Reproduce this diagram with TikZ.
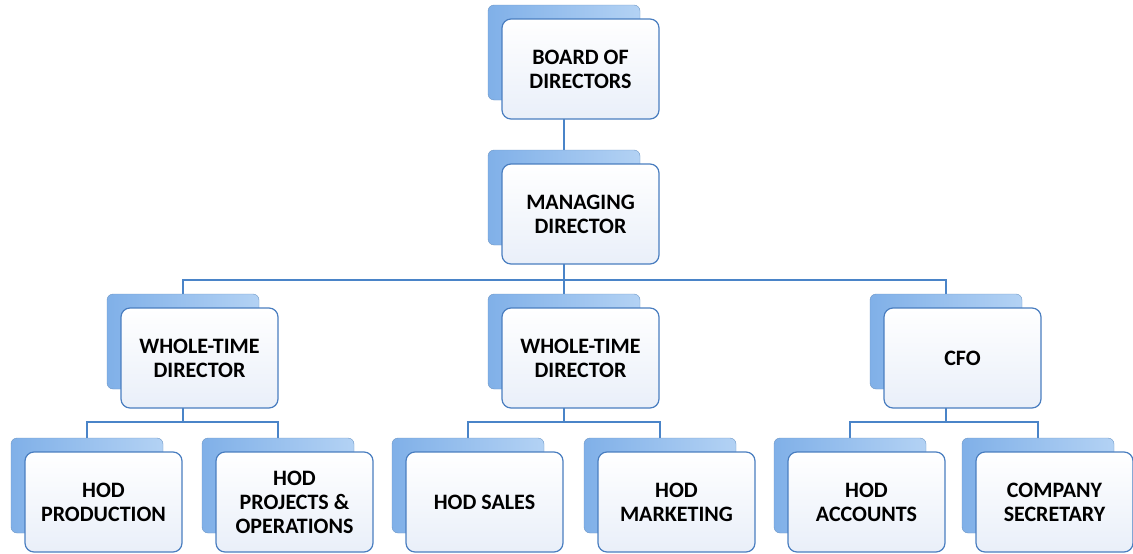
\documentclass[tikz,border=0pt]{standalone}
\usepackage{fontspec}
\setmainfont{Carlito}
\usetikzlibrary{backgrounds}
\definecolor{linkblue}{HTML}{4A84C8}
\definecolor{edgeblue}{HTML}{4A7EC0}
\definecolor{backdark}{HTML}{80B0E8}
\definecolor{backlight}{HTML}{B3D2F4}
\definecolor{cardtint}{HTML}{E9EFF9}

\tikzset{
  back/.style={rounded corners=6pt, minimum width=152pt, minimum height=95pt,
    inner sep=0pt, left color=backdark, right color=backlight, draw=backdark!85!black},
  card/.style={rounded corners=9pt, minimum width=157pt, minimum height=100pt,
    inner sep=0pt, align=center, top color=white, bottom color=cardtint,
    draw=edgeblue, line width=1.2pt, font=\bfseries\fontsize{22}{24}\selectfont},
  link/.style={draw=linkblue, line width=1.5pt},
}

\begin{document}
\begin{tikzpicture}[x=1pt, y=-1pt]

\def\sh{16.5}

\useasboundingbox (0,0) rectangle (1133,554);

% Back plates
\node [back] (bodS)  at (564,52.5)  {};
\node [back] (mdS)   at (564,197.5) {};
\node [back] (wt1S)  at (183,341.5) {};
\node [back] (wt2S)  at (564,341.5) {};
\node [back] (cfoS)  at (946,341.5) {};
\node [back] (prodS) at (87,485.5)  {};
\node [back] (projS) at (278,485.5) {};
\node [back] (salS)  at (468,485.5) {};
\node [back] (mktS)  at (660,485.5) {};
\node [back] (accS)  at (850,485.5) {};
\node [back] (secS)  at (1038,485.5) {};

% Cards
\node [card] (bod)  at ([shift={(\sh,\sh)}]bodS)  {BOARD OF\\DIRECTORS};
\node [card] (md)   at ([shift={(\sh,\sh)}]mdS)   {MANAGING\\DIRECTOR};
\node [card] (wt1)  at ([shift={(\sh,\sh)}]wt1S)  {WHOLE-TIME\\DIRECTOR};
\node [card] (wt2)  at ([shift={(\sh,\sh)}]wt2S)  {WHOLE-TIME\\DIRECTOR};
\node [card] (cfo)  at ([shift={(\sh,\sh)}]cfoS)  {CFO};
\node [card] (prod) at ([shift={(\sh,\sh)}]prodS) {HOD\\PRODUCTION};
\node [card] (proj) at ([shift={(\sh,\sh)}]projS) {HOD\\PROJECTS \&\\OPERATIONS};
\node [card] (sal)  at ([shift={(\sh,\sh)}]salS)  {HOD SALES};
\node [card] (mkt)  at ([shift={(\sh,\sh)}]mktS)  {HOD\\MARKETING};
\node [card] (acc)  at ([shift={(\sh,\sh)}]accS)  {HOD\\ACCOUNTS};
\node [card] (sec)  at ([shift={(\sh,\sh)}]secS)  {COMPANY\\SECRETARY};

% Lines
\coordinate (busA) at (564,280);
\coordinate (busB) at (183,422);
\coordinate (busC) at (564,422);
\coordinate (busD) at (946,422);

\begin{scope}[on background layer]
\draw [link] (bodS) -- (mdS);
\draw [link] (mdS) -- (busA);
\draw [link] (wt1S) |- (busA) -| (cfoS);
\draw [link] (busA) -- (wt2S);
\draw [link] (wt1S) -- (busB);
\draw [link] (prodS) |- (busB) -| (projS);
\draw [link] (wt2S) -- (busC);
\draw [link] (salS) |- (busC) -| (mktS);
\draw [link] (cfoS) -- (busD);
\draw [link] (accS) |- (busD) -| (secS);
\end{scope}

\end{tikzpicture}
\end{document}
